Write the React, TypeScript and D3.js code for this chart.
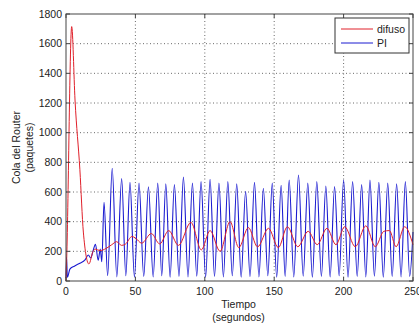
import React from "react";
import * as d3 from "d3";

const xTicks = [0, 50, 100, 150, 200, 250];
const yTicks = [0, 200, 400, 600, 800, 1000, 1200, 1400, 1600, 1800];

const difusoT = [0, 0.5, 4.1, 6.5, 10, 12.5, 16.5, 19.5, 21, 24.5, 29, 33, 36.5, 40, 43, 47.5, 50, 54.5, 61.5, 67.5, 74, 81, 90, 97.5, 103.8, 111, 118.2, 124.5, 131.4, 138, 145.9, 153, 159.5, 167, 174.5, 181, 188, 194.5, 200.8, 208.4, 216, 222.8, 229, 233, 237.8, 244, 250];
const difusoV = [0, 150, 1715, 1220, 750, 330, 115, 200, 215, 205, 220, 245, 265, 240, 250, 300, 290, 255, 320, 250, 340, 240, 395, 210, 340, 200, 400, 225, 360, 230, 355, 225, 366, 231, 335, 245, 355, 245, 366, 231, 372, 231, 335, 340, 231, 366, 245];

const piT = [0, 0.4, 1.0, 2.8, 6, 10, 13.7, 16.1, 17.8, 19.7, 21.2, 23.2, 24.7, 25.8, 27.4, 30, 33.3, 36.6, 40.1, 43.1, 46.1, 49.3, 52.6, 56, 59.4, 62.8, 66.1, 69, 71.9, 75, 78.1, 81.4, 84.6, 87.9, 91.1, 94.2, 97.3, 100.6, 103.8, 107, 110.2, 113.4, 116.6, 119.8, 123.0, 126.2, 129.4, 132.6, 135.8, 139, 142.2, 145.4, 148.6, 151.8, 155.0, 157.9, 160.8, 164.1, 167.5, 170.9, 174.2, 177.5, 180.7, 184, 187.2, 190.3, 193.5, 196.8, 200.0, 203.2, 206.5, 209.8, 213.0, 216, 219.0, 222.2, 225.4, 228.6, 231.8, 235, 238.2, 241.4, 244.5, 247.6, 250];
const piV = [20, 160, 25, 80, 100, 120, 142, 175, 155, 210, 248, 140, 215, 130, 530, 35, 760, 28, 690, 35, 665, 25, 660, 30, 635, 28, 660, 35, 655, 25, 650, 30, 700, 28, 660, 32, 670, 25, 685, 30, 660, 28, 670, 35, 655, 25, 605, 30, 665, 28, 625, 35, 660, 25, 645, 30, 680, 28, 715, 32, 660, 25, 670, 30, 640, 28, 636, 35, 680, 25, 670, 30, 650, 28, 680, 32, 665, 25, 660, 30, 655, 28, 670, 30, 330];

const W = 419;
const H = 329;
const margin = { left: 66, right: 6, top: 14, bottom: 48 };
const font = "'Liberation Sans', Arial, sans-serif";

export default function App() {
  const x = d3.scaleLinear().domain([0, 250]).range([margin.left, W - margin.right]);
  const y = d3.scaleLinear().domain([0, 1800]).range([H - margin.bottom, margin.top]);
  const x0 = x.range()[0], x1 = x.range()[1];
  const y0 = y.range()[0], y1 = y.range()[1];

  const redLine = d3
    .line<number>()
    .x((_, i) => x(difusoT[i]))
    .y((d) => y(d))
    .curve(d3.curveMonotoneX)(difusoV) as string;
  const blueLine = d3
    .line<number>()
    .x((_, i) => x(piT[i]))
    .y((d) => y(d))
    .curve(d3.curveMonotoneX)(piV) as string;

  const tick = 4;
  return (
    <svg
      width={W}
      height={H}
      style={{ position: "fixed", left: 0, top: 0, background: "#fff" }}
      fontFamily={font}
    >
      <rect x={0} y={0} width={W} height={H} fill="#fff" />
      <rect x={x0} y={y1} width={x1 - x0} height={y0 - y1} fill="#fff" />
      {/* grid */}
      {xTicks.slice(1, -1).map((t) => (
        <line key={"gx" + t} x1={x(t)} x2={x(t)} y1={y0} y2={y1} stroke="#444" strokeWidth={0.8} strokeDasharray="1 2.5" />
      ))}
      {yTicks.slice(1, -1).map((t) => (
        <line key={"gy" + t} x1={x0} x2={x1} y1={y(t)} y2={y(t)} stroke="#444" strokeWidth={0.8} strokeDasharray="1 2.5" />
      ))}
      {/* data */}
      <path d={blueLine} fill="none" stroke="#1a1ad0" strokeWidth={1.1} />
      <path d={redLine} fill="none" stroke="#e0202a" strokeWidth={1} />
      {/* frame */}
      <rect x={x0} y={y1} width={x1 - x0} height={y0 - y1} fill="none" stroke="#444" strokeWidth={1} />
      {xTicks.map((t) => (
        <g key={"tx" + t}>
          <line x1={x(t)} x2={x(t)} y1={y0} y2={y0 - tick} stroke="#444" />
          <line x1={x(t)} x2={x(t)} y1={y1} y2={y1 + tick} stroke="#444" />
          <text x={x(t)} y={y0 + 14} fontSize={10.5} textAnchor="middle" fill="#222">
            {t}
          </text>
        </g>
      ))}
      {yTicks.map((t) => (
        <g key={"ty" + t}>
          <line x1={x0} x2={x0 + tick} y1={y(t)} y2={y(t)} stroke="#444" />
          <line x1={x1} x2={x1 - tick} y1={y(t)} y2={y(t)} stroke="#444" />
          <text x={x0 - 4} y={y(t) + 3.8} fontSize={10.5} textAnchor="end" fill="#222">
            {t}
          </text>
        </g>
      ))}
      {/* axis labels */}
      <text x={(x0 + x1) / 2 - 1} y={308} fontSize={10.5} textAnchor="middle" fill="#222">
        Tiempo
      </text>
      <text x={(x0 + x1) / 2 - 1} y={321} fontSize={10.5} textAnchor="middle" fill="#222">
        (segundos)
      </text>
      <text transform={`translate(20,${(y0 + y1) / 2}) rotate(-90)`} fontSize={10.5} textAnchor="middle" fill="#222">
        Cola del Router
      </text>
      <text transform={`translate(33,${(y0 + y1) / 2}) rotate(-90)`} fontSize={10.5} textAnchor="middle" fill="#222">
        (paquetes)
      </text>
      {/* legend */}
      <rect x={335} y={18} width={74} height={35} fill="#fff" stroke="#333" strokeWidth={1} />
      <line x1={341} x2={373} y1={29} y2={29} stroke="#e0202a" strokeWidth={1} />
      <line x1={341} x2={373} y1={43} y2={43} stroke="#1a1ad0" strokeWidth={1} />
      <text x={377} y={32.8} fontSize={10.5} fill="#222">difuso</text>
      <text x={377} y={46.8} fontSize={10.5} fill="#222">PI</text>
    </svg>
  );
}
